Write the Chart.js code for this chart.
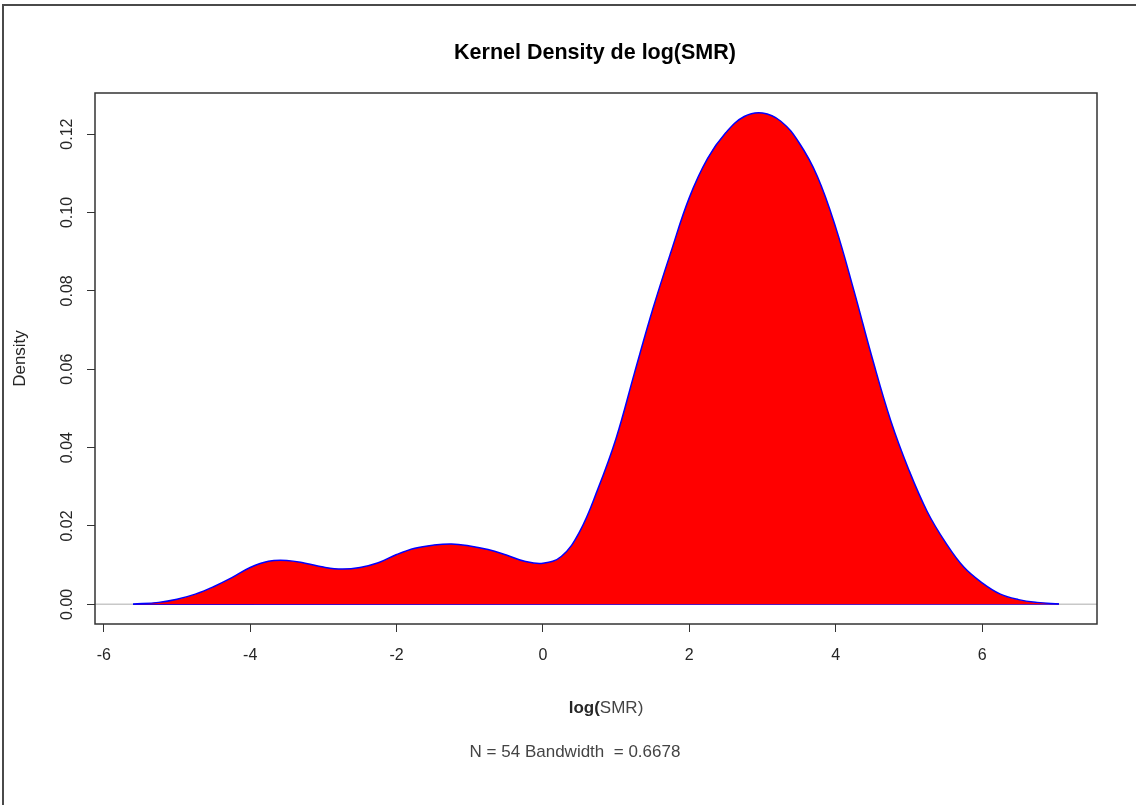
<!DOCTYPE html>
<html>
<head>
<meta charset="utf-8">
<title>Kernel Density de log(SMR)</title>
<script src="https://cdn.jsdelivr.net/npm/chart.js@4.4.1/dist/chart.umd.min.js"></script>
<style>
  html, body { margin: 0; padding: 0; background: #fff; overflow: hidden; }
  #frame { position: absolute; left: 2px; top: 4px; width: 1134px; height: 801px;
           border-left: 2px solid #4a4a4a; border-top: 2px solid #4a4a4a; }
  #plot { position: absolute; left: 0; top: 0; }
</style>
</head>
<body>
<div id="frame"></div>
<canvas id="plot" width="1136" height="805"></canvas>
<script>
// ====== DATA ======
const xValues = [
  -5.6, -5.25, -5.0, -4.75, -4.5, -4.25, -4.0, -3.75, -3.5, -3.25,
  -3.0, -2.75, -2.5, -2.25, -2.0, -1.75, -1.5, -1.25, -1.0, -0.75,
  -0.5, -0.25, 0, 0.25, 0.5, 0.75, 1.0, 1.25, 1.5, 1.75,
  2.0, 2.25, 2.5, 2.75, 3.0, 3.25, 3.5, 3.75, 4.0, 4.25,
  4.5, 4.75, 5.0, 5.25, 5.5, 5.75, 6.0, 6.25, 6.5, 6.75, 7.05
];
const densityValues = [
  0.00005, 0.0005, 0.0013, 0.0026, 0.0045, 0.0068, 0.0094, 0.0110, 0.0112, 0.0105,
  0.0095, 0.0090, 0.0094, 0.0106, 0.0127, 0.0143, 0.0151, 0.0154, 0.0149, 0.0140,
  0.0126, 0.0110, 0.0105, 0.0122, 0.0185, 0.0294, 0.0424, 0.0590, 0.0753, 0.0900,
  0.1038, 0.1138, 0.1204, 0.1245, 0.1254, 0.1233, 0.1178, 0.1092, 0.0962, 0.0800,
  0.0628, 0.0470, 0.0343, 0.0237, 0.0158, 0.0095, 0.0055, 0.0026, 0.0012, 0.0005, 0.0001
];
const xTicks = [-6, -4, -2, 0, 2, 4, 6];
const yTicks = [0, 0.02, 0.04, 0.06, 0.08, 0.10, 0.12];
const xRange = [-6.12, 7.57];
const yRange = [-0.00502, 0.1305];

const titleText = "Kernel Density de log(SMR)";
const xLabelBold = "log(";
const xLabelPlain = "SMR)";
const yLabel = "Density";
const subText = "N = 54 Bandwidth  = 0.6678";

// ====== STYLE ======
const FAMILY = '"Liberation Sans", Arial, sans-serif';
const TEXT = "#262626";

// ====== POINTS ======
const curve = xValues.map((x, i) => ({ x, y: densityValues[i] }));
// polygon closing edge, from last point back to the first
const last = curve.length - 1;
const closing = [curve[0], curve[last]];

// ====== EXTRA DRAWING (zero line, box, rotated y labels, texts) ======
const rDecor = {
  id: "rDecor",
  beforeDatasetsDraw(chart) {
    const { ctx, chartArea: a, scales: { y } } = chart;
    const y0 = y.getPixelForValue(0);
    ctx.save();
    ctx.strokeStyle = "#c8c8c8";
    ctx.lineWidth = 1.5;
    ctx.beginPath();
    ctx.moveTo(a.left, y0);
    ctx.lineTo(a.right, y0);
    ctx.stroke();
    ctx.restore();
  },
  afterDraw(chart) {
    const { ctx, chartArea: a, scales: { y } } = chart;
    ctx.save();

    ctx.strokeStyle = "#333";
    ctx.lineWidth = 1.5;
    ctx.strokeRect(a.left, a.top, a.width, a.height);

    // y tick labels, turned like R does
    ctx.fillStyle = TEXT;
    ctx.font = "16px " + FAMILY;
    ctx.textAlign = "center";
    ctx.textBaseline = "middle";
    y.ticks.forEach(t => {
      ctx.save();
      ctx.translate(a.left - 27, y.getPixelForValue(t.value));
      ctx.rotate(-Math.PI / 2);
      ctx.fillText(t.value.toFixed(2), 0, 0);
      ctx.restore();
    });

    // main title
    ctx.fillStyle = "#000";
    ctx.font = "bold 21.5px " + FAMILY;
    ctx.fillText(titleText, (a.left + a.right) / 2 - 1, 53);

    // x label, "log(" in bold
    const cx = 606, ly = 708;
    ctx.font = "bold 17px " + FAMILY;
    const wb = ctx.measureText(xLabelBold).width;
    ctx.font = "17px " + FAMILY;
    const wp = ctx.measureText(xLabelPlain).width;
    const sx = cx - (wb + wp) / 2;
    ctx.textAlign = "left";
    ctx.fillStyle = TEXT;
    ctx.font = "bold 17px " + FAMILY;
    ctx.fillText(xLabelBold, sx, ly);
    ctx.fillStyle = "#444";
    ctx.font = "17px " + FAMILY;
    ctx.fillText(xLabelPlain, sx + wb, ly);

    // bandwidth line
    ctx.textAlign = "center";
    ctx.fillStyle = "#444";
    ctx.fillText(subText, 575, 752);

    ctx.restore();
  }
};

// ====== CHART ======
const ctx = document.getElementById("plot").getContext("2d");
new Chart(ctx, {
  type: "line",
  data: {
    datasets: [
      {
        data: curve,
        borderColor: "#0000ff",
        borderWidth: 1.5,
        backgroundColor: "#ff0000",
        fill: "origin",
        pointRadius: 0,
        tension: 0.4
      },
      {
        data: closing,
        borderColor: "#0000ff",
        borderWidth: 1.5,
        fill: false,
        pointRadius: 0
      }
    ]
  },
  options: {
    responsive: false,
    animation: false,
    devicePixelRatio: 1,
    layout: { padding: { left: 0, top: 93, right: 39, bottom: 0 } },
    plugins: {
      legend: { display: false },
      tooltip: { enabled: false },
      title: { display: false }
    },
    scales: {
      x: {
        type: "linear",
        min: xRange[0],
        max: xRange[1],
        afterBuildTicks: s => { s.ticks = xTicks.map(v => ({ value: v })); },
        afterFit: s => { s.height = 181; },
        border: { display: false },
        grid: { drawOnChartArea: false, drawTicks: true, tickLength: 8, color: "#333", lineWidth: 1 },
        ticks: {
          padding: 14,
          color: TEXT,
          font: { family: FAMILY, size: 16 },
          maxRotation: 0,
          callback: v => String(v)
        }
      },
      y: {
        type: "linear",
        min: yRange[0],
        max: yRange[1],
        afterBuildTicks: s => { s.ticks = yTicks.map(v => ({ value: v })); },
        afterFit: s => { s.width = 95; },
        border: { display: false },
        grid: { drawOnChartArea: false, drawTicks: true, tickLength: 8, color: "#333", lineWidth: 1 },
        ticks: { display: false },
        title: {
          display: true,
          text: yLabel,
          color: TEXT,
          font: { family: FAMILY, size: 17 },
          padding: { top: 10 }
        }
      }
    }
  },
  plugins: [rDecor]
});
</script>
</body>
</html>
